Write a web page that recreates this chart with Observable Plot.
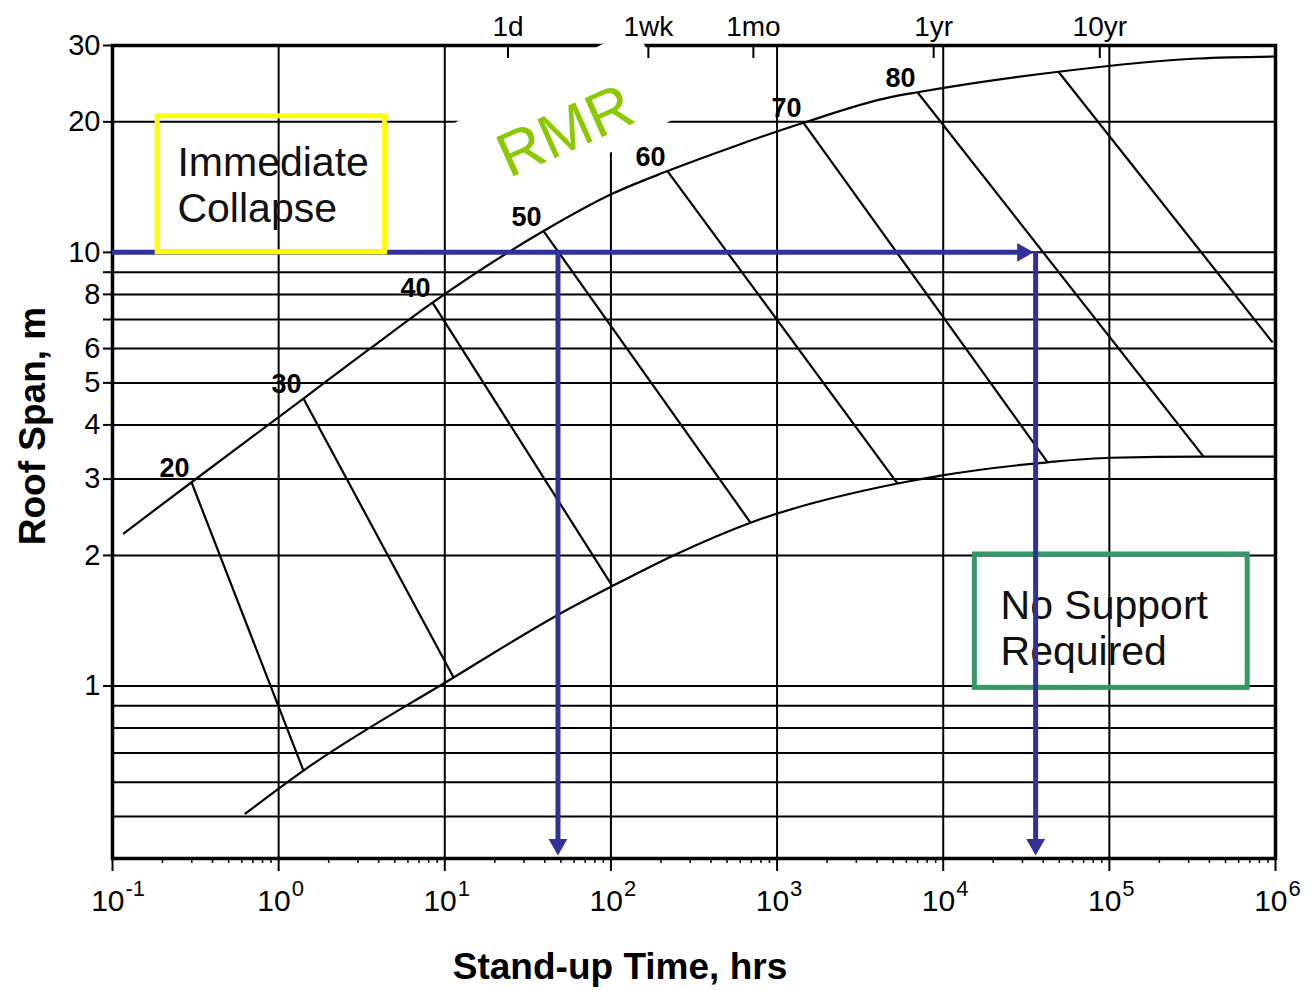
<!DOCTYPE html>
<html>
<head>
<meta charset="utf-8">
<script src="https://cdn.jsdelivr.net/npm/d3@7"></script>
<script src="https://cdn.jsdelivr.net/npm/@observablehq/plot@0.6"></script>
<style>
  html, body { margin: 0; padding: 0; background: #fff; }
  #chart svg { display: block; }
</style>
</head>
<body>
<div id="chart"></div>
<script>
// ---------- data ----------
const hGridSpans = [0.5, 0.6, 0.7, 0.8, 0.9, 1, 2, 3, 4, 5, 6, 7, 8, 9, 10, 20];
const vGridHours = [1, 10, 100, 1000, 10000, 100000];
const yTickValues = [1, 2, 3, 4, 5, 6, 8, 10, 20, 30];
const yTickMarks = [1, 2, 3, 4, 5, 6, 7, 8, 9, 10, 20, 30];
const xExponents = [-1, 0, 1, 2, 3, 4, 5, 6];
const minorMultipliers = [2, 3, 4, 5, 6, 7, 8, 9];
const topTickHours = [24, 168, 720, 8760, 87600];
const topTickLabels = ["1d", "1wk", "1mo", "1yr", "10yr"];

// upper boundary (immediate collapse limit)
const upperT = [0.117, 0.299, 1.41, 3.43, 8.44, 39.3, 104, 219, 562, 1443, 4820, 7000, 49400, 340000, 1000000];
const upperS = [2.25, 2.95, 4.60, 5.94, 7.66, 11.2, 13.7, 15.4, 17.6, 19.9, 22.8, 23.4, 26.1, 28.0, 28.3];
// lower boundary (no support required)
const lowerT = [0.632, 1.41, 11.3, 49.7, 102, 238, 692, 5310, 9900, 42500, 101600, 369000, 1000000];
const lowerS = [0.508, 0.638, 1.046, 1.47, 1.70, 2.0, 2.38, 2.93, 3.06, 3.28, 3.36, 3.38, 3.38];

// RMR lines
const rmrValues = [20, 30, 40, 50, 60, 70, 80, 90];
const rmrLabels = ["20", "30", "40", "50", "60", "70", "80", ""];
const rmrTopT = [0.299, 1.41, 8.44, 39.3, 219, 1443, 7000, 49400];
const rmrTopS = [2.95, 4.60, 7.66, 11.2, 15.4, 19.9, 23.4, 26.1];
const rmrBotT = [1.41, 11.3, 102, 692, 5310, 42500, 369000, 960000];
const rmrBotS = [0.638, 1.046, 1.70, 2.38, 2.93, 3.28, 3.38, 6.2];

// worked example (blue arrows)
const exampleSpan = 10;
const exampleTimes = [48, 36000];

// annotation boxes (data units)
const collapseBoxT = [0.187, 4.37];
const collapseBoxS = [10, 20.6];
const noSupportBoxT = [15500, 680000];
const noSupportBoxS = [0.99, 2.01];
const collapseTextAt = [0.246, 17.8];
const noSupportTextAt = [22130, 1.70];

// white label patch behind "RMR"
const patchT = [10.8, 138.7, 266, 20.7];
const patchS = [19.6, 33.0, 20.8, 12.4];
const rmrTitleAt = [53.3, 19.0];

// ---------- derived tables ----------
const upper = upperT.map((t, i) => ({t, s: upperS[i]}));
const lower = lowerT.map((t, i) => ({t, s: lowerS[i]}));
const rmr = rmrValues.map((v, i) => ({v, label: rmrLabels[i], t1: rmrTopT[i], s1: rmrTopS[i], t2: rmrBotT[i], s2: rmrBotS[i]}));
const topTicks = topTickHours.map((t, i) => ({t, label: topTickLabels[i]}));
const patch = patchT.map((t, i) => ({t, s: patchS[i]}));
const xMajor = xExponents.map(e => 10 ** e);
const xMinor = xExponents.slice(0, -1).flatMap(e => minorMultipliers.map(m => m * 10 ** e));

const BLUE = "#313199";
const FONT = "'Liberation Sans', Arial, sans-serif";

const chart = Plot.plot({
  width: 1310,
  height: 990,
  marginLeft: 112,
  marginRight: 35,
  marginTop: 45,
  marginBottom: 132,
  x: {type: "log", domain: [0.1, 1e6]},
  y: {type: "log", domain: [0.4, 30], axis: null},
  style: {fontFamily: FONT, background: "#fff", color: "#000"},
  marks: [
    // grid
    Plot.ruleY(hGridSpans, {stroke: "#000", strokeWidth: 2}),
    Plot.ruleX(vGridHours, {stroke: "#000", strokeWidth: 2}),
    Plot.frame({stroke: "#000", strokeWidth: 3.5}),
    // y axis
    Plot.ruleY(yTickMarks, {x1: 0.1, x2: 0.1, insetLeft: -9, stroke: "#000", strokeWidth: 2}),
    Plot.text(yTickValues, {y: d => d, frameAnchor: "left", textAnchor: "end", dx: -12, fontSize: 29, text: d => String(d)}),
    // x axis
    Plot.axisX({ticks: xMajor, tickSize: 13, tickFormat: () => "", label: null, strokeWidth: 2}),
    Plot.axisX({ticks: xMinor, tickSize: 5, tickFormat: () => "", label: null, strokeWidth: 1.5}),
    Plot.text(xExponents, {x: e => 10 ** e, frameAnchor: "bottom", text: () => "10", textAnchor: "end", lineAnchor: "bottom", dx: 12, dy: 52, fontSize: 30}),
    Plot.text(xExponents, {x: e => 10 ** e, frameAnchor: "bottom", text: e => String(e), textAnchor: "start", lineAnchor: "bottom", dx: 13, dy: 37, fontSize: 22}),
    // curves
    Plot.line(upper, {x: "t", y: "s", curve: "monotone-x", stroke: "#000", strokeWidth: 2.2}),
    Plot.line(lower, {x: "t", y: "s", curve: "monotone-x", stroke: "#000", strokeWidth: 2.2}),
    Plot.link(rmr, {x1: "t1", y1: "s1", x2: "t2", y2: "s2", stroke: "#000", strokeWidth: 2.2}),
    // white patch + RMR title
    Plot.line(patch, {x: "t", y: "s", fill: "#fff", stroke: "#fff", strokeWidth: 1}),
    Plot.text([rmrTitleAt], {x: d => d[0], y: d => d[1], text: () => "RMR", rotate: -24, fontSize: 62, fill: "#8cc800"}),
    // top time ticks
    Plot.ruleX(topTicks, {x: "t", y1: 30, y2: 28, stroke: "#000", strokeWidth: 2}),
    Plot.text(topTicks, {x: "t", frameAnchor: "top", text: "label", lineAnchor: "bottom", dy: -10, fontSize: 28}),
    // no support box
    Plot.rect([0], {x1: () => noSupportBoxT[0], x2: () => noSupportBoxT[1], y1: () => noSupportBoxS[0], y2: () => noSupportBoxS[1], fill: "none", stroke: "#339966", strokeWidth: 5}),
    Plot.text([noSupportTextAt], {x: d => d[0], y: d => d[1], text: () => "No Support\nRequired", textAnchor: "start", lineAnchor: "top", lineHeight: 1.12, fontSize: 41, fill: "#111"}),
    // worked example arrows
    Plot.ruleY([exampleSpan], {x1: 0.1, x2: exampleTimes[1], stroke: BLUE, strokeWidth: 5, insetRight: 10}),
    Plot.ruleX(exampleTimes, {y1: exampleSpan, y2: 0.4, stroke: BLUE, strokeWidth: 5, insetBottom: 12}),
    Plot.dot(exampleTimes, {x: d => d, frameAnchor: "bottom", symbol: "triangle", r: 7, fill: BLUE, stroke: "none", rotate: 180, dy: -14}),
    Plot.dot([exampleTimes[1]], {x: d => d, y: () => exampleSpan, symbol: "triangle", r: 7, fill: BLUE, stroke: "none", rotate: 90, dx: -13}),
    // immediate collapse box
    Plot.rect([0], {x1: () => collapseBoxT[0], x2: () => collapseBoxT[1], y1: () => collapseBoxS[0], y2: () => collapseBoxS[1], fill: "none", stroke: "#ffff00", strokeWidth: 5}),
    Plot.text([collapseTextAt], {x: d => d[0], y: d => d[1], text: () => "Immediate\nCollapse", textAnchor: "start", lineAnchor: "top", lineHeight: 1.12, fontSize: 41, fill: "#111"}),
    // RMR labels
    Plot.text(rmr.filter(d => d.label), {x: "t1", y: "s1", text: "label", dx: -17, dy: -14, fontSize: 27, fontWeight: "bold"}),
    // axis titles
    Plot.text(["Stand-up Time, hrs"], {frameAnchor: "bottom", text: d => d, textAnchor: "middle", lineAnchor: "bottom", dx: -74, dy: 120, fontSize: 37, fontWeight: "bold"}),
    Plot.text(["Roof Span, m"], {frameAnchor: "left", text: d => d, textAnchor: "middle", lineAnchor: "bottom", rotate: -90, dx: -68, dy: -26, fontSize: 37, fontWeight: "bold"})
  ]
});
document.getElementById("chart").appendChild(chart);
</script>
</body>
</html>
